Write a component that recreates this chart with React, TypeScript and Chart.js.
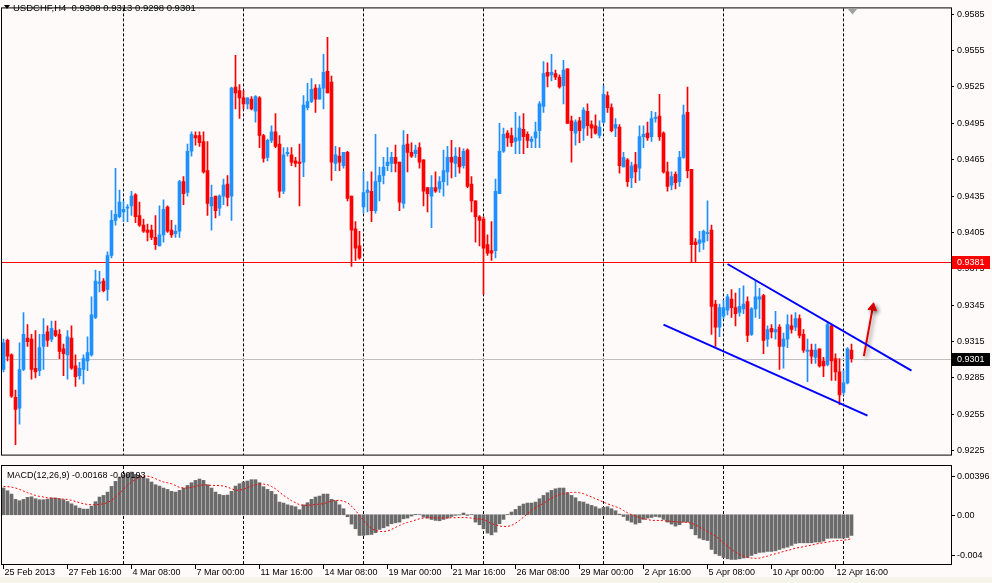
import React, { useEffect, useRef } from 'react';
import { Chart, registerables } from 'chart.js';

Chart.register(...registerables);

const FONT = 'Liberation Sans, Arial, sans-serif';
const SYMBOL = 'USDCHF,H4';
const BULL = '#1e90ff';
const BEAR = '#ff0000';

// H4 candles from 25 Feb 2013 00:00, one per 4 hours, Mon-Fri
const opens = [
  0.9292, 0.9316, 0.9304, 0.9269, 0.9260, 0.9292, 0.9318, 0.9317, 0.9293, 0.9291,
  0.9311, 0.9323, 0.9317, 0.9324, 0.9321, 0.9309, 0.9304, 0.9318, 0.9295, 0.9287,
  0.9292, 0.9299, 0.9304, 0.9335, 0.9363, 0.9365, 0.9358, 0.9386, 0.9415, 0.9418,
  0.9422, 0.9425, 0.9427, 0.9436, 0.9419, 0.9411, 0.9407, 0.9407, 0.9401, 0.9394,
  0.9403, 0.9426, 0.9407, 0.9404, 0.9406, 0.9447, 0.9438, 0.9472, 0.9485, 0.9485,
  0.9480, 0.9456, 0.9427, 0.9435, 0.9425, 0.9435, 0.9445, 0.9435, 0.9525, 0.9522,
  0.9516, 0.9511, 0.9515, 0.9505, 0.9516, 0.9485, 0.9467, 0.9481, 0.9488, 0.9478,
  0.9439, 0.9470, 0.9469, 0.9464, 0.9463, 0.9463, 0.9508, 0.9513, 0.9524, 0.9515,
  0.9524, 0.9538, 0.9529, 0.9462, 0.9468, 0.9460, 0.9471, 0.9435, 0.9408, 0.9394,
  0.9426, 0.9438, 0.9439, 0.9423, 0.9447, 0.9452, 0.9460, 0.9462, 0.9467, 0.9463,
  0.9429, 0.9478, 0.9471, 0.9470, 0.9475, 0.9465, 0.9442, 0.9435, 0.9442, 0.9441,
  0.9447, 0.9455, 0.9467, 0.9462, 0.9467, 0.9460, 0.9473, 0.9445, 0.9431, 0.9418,
  0.9416, 0.9395, 0.9390, 0.9390, 0.9437, 0.9472, 0.9487, 0.9485, 0.9480, 0.9481,
  0.9490, 0.9486, 0.9480, 0.9483, 0.9489, 0.9509, 0.9537, 0.9535, 0.9536, 0.9533,
  0.9526, 0.9540, 0.9497, 0.9487, 0.9497, 0.9491, 0.9505, 0.9494, 0.9493, 0.9485,
  0.9496, 0.9518, 0.9508, 0.9491, 0.9492, 0.9459, 0.9465, 0.9450, 0.9461, 0.9458,
  0.9484, 0.9487, 0.9484, 0.9499, 0.9501, 0.9487, 0.9455, 0.9444, 0.9453, 0.9447,
  0.9467, 0.9504, 0.9457, 0.9397, 0.9396, 0.9397, 0.9404, 0.9407, 0.9346, 0.9327,
  0.9336, 0.9341, 0.9350, 0.9343, 0.9339, 0.9342, 0.9348, 0.9321, 0.9342, 0.9350,
  0.9353, 0.9317, 0.9326, 0.9323, 0.9327, 0.9311, 0.9317, 0.9328, 0.9327, 0.9334,
  0.9321, 0.9307, 0.9308, 0.9302, 0.9309, 0.9299, 0.9296, 0.9328, 0.9301, 0.9290,
  0.9273, 0.9281, 0.9308,
];
const highs = [
  0.9317, 0.9317, 0.9305, 0.9275, 0.9314, 0.9339, 0.9329, 0.9321, 0.9324, 0.9321,
  0.9334, 0.9328, 0.9332, 0.9332, 0.9325, 0.9313, 0.9324, 0.9328, 0.9304, 0.9298,
  0.9304, 0.9319, 0.9352, 0.9374, 0.9373, 0.9367, 0.9389, 0.9423, 0.9458, 0.9440,
  0.9431, 0.9428, 0.9439, 0.9437, 0.9430, 0.9416, 0.9412, 0.9411, 0.9419, 0.9427,
  0.9432, 0.9427, 0.9415, 0.9411, 0.9448, 0.9451, 0.9478, 0.9488, 0.9488, 0.9488,
  0.9488, 0.9480, 0.9444, 0.9435, 0.9436, 0.9449, 0.9452, 0.9525, 0.9551, 0.9527,
  0.9522, 0.9516, 0.9517, 0.9518, 0.9517, 0.9486, 0.9482, 0.9493, 0.9503, 0.9485,
  0.9475, 0.9475, 0.9475, 0.9467, 0.9478, 0.9518, 0.9528, 0.9532, 0.9527, 0.9527,
  0.9552, 0.9566, 0.9534, 0.9476, 0.9475, 0.9471, 0.9472, 0.9435, 0.9414, 0.9406,
  0.9455, 0.9447, 0.9455, 0.9486, 0.9459, 0.9467, 0.9475, 0.9471, 0.9477, 0.9463,
  0.9489, 0.9486, 0.9479, 0.9477, 0.9479, 0.9465, 0.9442, 0.9452, 0.9455, 0.9451,
  0.9473, 0.9476, 0.9481, 0.9475, 0.9475, 0.9474, 0.9474, 0.9451, 0.9431, 0.9419,
  0.9418, 0.9403, 0.9414, 0.9449, 0.9495, 0.9491, 0.9489, 0.9491, 0.9504, 0.9501,
  0.9503, 0.9488, 0.9484, 0.9496, 0.9513, 0.9546, 0.9545, 0.9552, 0.9539, 0.9535,
  0.9547, 0.9540, 0.9501, 0.9498, 0.9500, 0.9508, 0.9511, 0.9497, 0.9502, 0.9497,
  0.9526, 0.9521, 0.9511, 0.9499, 0.9494, 0.9471, 0.9466, 0.9463, 0.9471, 0.9493,
  0.9493, 0.9496, 0.9505, 0.9504, 0.9519, 0.9488, 0.9463, 0.9455, 0.9455, 0.9472,
  0.9510, 0.9525, 0.9457, 0.9400, 0.9406, 0.9407, 0.9431, 0.9411, 0.9349, 0.9346,
  0.9349, 0.9354, 0.9358, 0.9355, 0.9359, 0.9361, 0.9352, 0.9343, 0.9365, 0.9359,
  0.9354, 0.9328, 0.9329, 0.9340, 0.9329, 0.9322, 0.9337, 0.9337, 0.9339, 0.9337,
  0.9325, 0.9317, 0.9313, 0.9313, 0.9309, 0.9302, 0.9331, 0.9329, 0.9305, 0.9301,
  0.9291, 0.9310, 0.9313,
];
const lows = [
  0.9290, 0.9299, 0.9269, 0.9230, 0.9247, 0.9291, 0.9311, 0.9284, 0.9285, 0.9287,
  0.9292, 0.9311, 0.9315, 0.9319, 0.9301, 0.9287, 0.9284, 0.9292, 0.9278, 0.9284,
  0.9280, 0.9291, 0.9303, 0.9334, 0.9356, 0.9356, 0.9349, 0.9384, 0.9411, 0.9417,
  0.9414, 0.9414, 0.9419, 0.9413, 0.9410, 0.9405, 0.9398, 0.9399, 0.9391, 0.9394,
  0.9397, 0.9405, 0.9401, 0.9401, 0.9401, 0.9428, 0.9435, 0.9468, 0.9477, 0.9476,
  0.9454, 0.9419, 0.9407, 0.9417, 0.9419, 0.9428, 0.9427, 0.9415, 0.9507, 0.9499,
  0.9507, 0.9507, 0.9506, 0.9496, 0.9475, 0.9463, 0.9464, 0.9479, 0.9475, 0.9434,
  0.9437, 0.9468, 0.9460, 0.9459, 0.9427, 0.9451, 0.9506, 0.9512, 0.9504, 0.9515,
  0.9507, 0.9520, 0.9448, 0.9456, 0.9456, 0.9458, 0.9431, 0.9377, 0.9382, 0.9383,
  0.9421, 0.9422, 0.9414, 0.9421, 0.9431, 0.9445, 0.9456, 0.9455, 0.9455, 0.9423,
  0.9425, 0.9455, 0.9467, 0.9467, 0.9458, 0.9427, 0.9422, 0.9409, 0.9438, 0.9438,
  0.9435, 0.9444, 0.9450, 0.9451, 0.9454, 0.9458, 0.9442, 0.9422, 0.9397, 0.9394,
  0.9354, 0.9386, 0.9382, 0.9384, 0.9437, 0.9471, 0.9476, 0.9476, 0.9470, 0.9470,
  0.9470, 0.9475, 0.9475, 0.9475, 0.9475, 0.9504, 0.9525, 0.9530, 0.9531, 0.9524,
  0.9511, 0.9495, 0.9463, 0.9477, 0.9479, 0.9481, 0.9485, 0.9483, 0.9486, 0.9483,
  0.9495, 0.9504, 0.9488, 0.9484, 0.9454, 0.9459, 0.9443, 0.9442, 0.9446, 0.9448,
  0.9475, 0.9481, 0.9480, 0.9496, 0.9481, 0.9454, 0.9439, 0.9440, 0.9441, 0.9443,
  0.9466, 0.9450, 0.9381, 0.9381, 0.9389, 0.9391, 0.9398, 0.9321, 0.9311, 0.9319,
  0.9334, 0.9337, 0.9335, 0.9328, 0.9336, 0.9338, 0.9315, 0.9320, 0.9335, 0.9334,
  0.9305, 0.9311, 0.9318, 0.9317, 0.9292, 0.9293, 0.9310, 0.9322, 0.9324, 0.9318,
  0.9306, 0.9282, 0.9297, 0.9297, 0.9294, 0.9286, 0.9295, 0.9283, 0.9283, 0.9263,
  0.9271, 0.9280, 0.9298,
];
const closes = [
  0.9314, 0.9303, 0.9270, 0.9259, 0.9292, 0.9321, 0.9315, 0.9292, 0.9290, 0.9310,
  0.9321, 0.9316, 0.9326, 0.9320, 0.9307, 0.9305, 0.9319, 0.9293, 0.9286, 0.9293,
  0.9301, 0.9306, 0.9337, 0.9365, 0.9364, 0.9357, 0.9386, 0.9415, 0.9420, 0.9430,
  0.9424, 0.9426, 0.9435, 0.9418, 0.9411, 0.9406, 0.9405, 0.9401, 0.9395, 0.9403,
  0.9424, 0.9406, 0.9403, 0.9406, 0.9447, 0.9437, 0.9472, 0.9486, 0.9483, 0.9479,
  0.9455, 0.9429, 0.9434, 0.9423, 0.9435, 0.9444, 0.9434, 0.9524, 0.9520, 0.9516,
  0.9511, 0.9516, 0.9507, 0.9517, 0.9485, 0.9466, 0.9481, 0.9488, 0.9476, 0.9439,
  0.9469, 0.9471, 0.9463, 0.9462, 0.9462, 0.9510, 0.9513, 0.9523, 0.9515, 0.9524,
  0.9537, 0.9520, 0.9463, 0.9469, 0.9463, 0.9471, 0.9433, 0.9407, 0.9392, 0.9384,
  0.9438, 0.9440, 0.9423, 0.9447, 0.9452, 0.9459, 0.9463, 0.9467, 0.9462, 0.9430,
  0.9477, 0.9471, 0.9468, 0.9473, 0.9463, 0.9439, 0.9437, 0.9442, 0.9439, 0.9447,
  0.9456, 0.9467, 0.9463, 0.9468, 0.9459, 0.9472, 0.9443, 0.9431, 0.9418, 0.9415,
  0.9392, 0.9388, 0.9388, 0.9439, 0.9472, 0.9486, 0.9483, 0.9479, 0.9483, 0.9491,
  0.9484, 0.9481, 0.9482, 0.9488, 0.9511, 0.9536, 0.9534, 0.9537, 0.9533, 0.9525,
  0.9539, 0.9495, 0.9489, 0.9496, 0.9489, 0.9506, 0.9493, 0.9491, 0.9487, 0.9492,
  0.9519, 0.9508, 0.9489, 0.9494, 0.9460, 0.9467, 0.9447, 0.9460, 0.9455, 0.9484,
  0.9486, 0.9483, 0.9499, 0.9500, 0.9484, 0.9455, 0.9443, 0.9451, 0.9446, 0.9467,
  0.9502, 0.9456, 0.9395, 0.9395, 0.9399, 0.9406, 0.9405, 0.9344, 0.9327, 0.9343,
  0.9343, 0.9352, 0.9343, 0.9338, 0.9344, 0.9346, 0.9320, 0.9342, 0.9352, 0.9352,
  0.9316, 0.9325, 0.9323, 0.9325, 0.9311, 0.9317, 0.9329, 0.9325, 0.9334, 0.9320,
  0.9308, 0.9308, 0.9303, 0.9308, 0.9295, 0.9295, 0.9329, 0.9299, 0.9290, 0.9271,
  0.9281, 0.9309, 0.9301,
];

// MACD(12,26,9): main line (histogram) and signal line
const macdMain = [
  0.00217, 0.00195, 0.00168, 0.00125, 0.00114, 0.00125, 0.00141, 0.00146, 0.00130, 0.00122,
  0.00122, 0.00127, 0.00136, 0.00136, 0.00130, 0.00122, 0.00108, 0.00089, 0.00073, 0.00054,
  0.00046, 0.00046, 0.00070, 0.00106, 0.00144, 0.00157, 0.00184, 0.00230, 0.00271, 0.00306,
  0.00325, 0.00333, 0.00347, 0.00328, 0.00320, 0.00306, 0.00293, 0.00266, 0.00244, 0.00233,
  0.00217, 0.00206, 0.00190, 0.00184, 0.00198, 0.00217, 0.00238, 0.00260, 0.00279, 0.00290,
  0.00279, 0.00244, 0.00217, 0.00184, 0.00165, 0.00157, 0.00160, 0.00190, 0.00233, 0.00252,
  0.00266, 0.00274, 0.00285, 0.00285, 0.00260, 0.00228, 0.00206, 0.00190, 0.00165, 0.00103,
  0.00095, 0.00081, 0.00073, 0.00065, 0.00041, 0.00081, 0.00098, 0.00125, 0.00144, 0.00152,
  0.00168, 0.00168, 0.00125, 0.00114, 0.00081, 0.00049, -0.00016, -0.00076, -0.00114, -0.00168,
  -0.00168, -0.00163, -0.00160, -0.00146, -0.00119, -0.00106, -0.00092, -0.00073, -0.00065, -0.00060,
  -0.00033, -0.00027, -0.00011, 0.00003, 0.00001, -0.00019, -0.00027, -0.00038, -0.00046, -0.00049,
  -0.00038, -0.00027, -0.00014, -0.00005, -0.00002, 0.00014, -0.00005, 0.00001, -0.00060, -0.00081,
  -0.00114, -0.00149, -0.00163, -0.00141, -0.00073, -0.00038, 0.00002, 0.00022, 0.00043, 0.00070,
  0.00087, 0.00095, 0.00095, 0.00103, 0.00130, 0.00157, 0.00179, 0.00198, 0.00211, 0.00217,
  0.00217, 0.00179, 0.00157, 0.00138, 0.00108, 0.00103, 0.00087, 0.00076, 0.00065, 0.00049,
  0.00060, 0.00065, 0.00049, 0.00033, 0.00005, -0.00014, -0.00046, -0.00060, -0.00076, -0.00065,
  -0.00038, -0.00027, -0.00022, -0.00014, -0.00019, -0.00038, -0.00060, -0.00076, -0.00092, -0.00081,
  -0.00060, -0.00060, -0.00114, -0.00163, -0.00190, -0.00203, -0.00209, -0.00282, -0.00317, -0.00331,
  -0.00347, -0.00358, -0.00363, -0.00363, -0.00358, -0.00352, -0.00347, -0.00331, -0.00317, -0.00306,
  -0.00304, -0.00298, -0.00298, -0.00293, -0.00282, -0.00271, -0.00263, -0.00249, -0.00233, -0.00228,
  -0.00228, -0.00228, -0.00228, -0.00222, -0.00222, -0.00214, -0.00192, -0.00190, -0.00190, -0.00190,
  -0.00190, -0.00185, -0.00168,
];
const macdSignal = [
  0.00230, 0.00228, 0.00225, 0.00217, 0.00206, 0.00192, 0.00179, 0.00168, 0.00157, 0.00149,
  0.00144, 0.00138, 0.00136, 0.00133, 0.00130, 0.00127, 0.00125, 0.00117, 0.00108, 0.00098,
  0.00089, 0.00084, 0.00081, 0.00081, 0.00084, 0.00089, 0.00098, 0.00117, 0.00144, 0.00173,
  0.00206, 0.00238, 0.00266, 0.00287, 0.00306, 0.00314, 0.00314, 0.00306, 0.00293, 0.00279,
  0.00266, 0.00260, 0.00252, 0.00238, 0.00222, 0.00217, 0.00217, 0.00222, 0.00230, 0.00238,
  0.00244, 0.00241, 0.00238, 0.00238, 0.00238, 0.00233, 0.00225, 0.00211, 0.00198, 0.00201,
  0.00206, 0.00222, 0.00233, 0.00244, 0.00249, 0.00249, 0.00244, 0.00230, 0.00211, 0.00184,
  0.00157, 0.00136, 0.00114, 0.00098, 0.00081, 0.00076, 0.00076, 0.00079, 0.00084, 0.00087,
  0.00089, 0.00100, 0.00111, 0.00117, 0.00117, 0.00111, 0.00098, 0.00070, 0.00035, -0.00005,
  -0.00046, -0.00081, -0.00114, -0.00127, -0.00136, -0.00136, -0.00133, -0.00119, -0.00103, -0.00087,
  -0.00073, -0.00062, -0.00054, -0.00043, -0.00033, -0.00027, -0.00024, -0.00024, -0.00024, -0.00027,
  -0.00027, -0.00027, -0.00024, -0.00024, -0.00022, -0.00022, -0.00024, -0.00027, -0.00033, -0.00035,
  -0.00038, -0.00054, -0.00073, -0.00081, -0.00092, -0.00095, -0.00095, -0.00087, -0.00068, -0.00046,
  -0.00019, 0.00008, 0.00035, 0.00057, 0.00076, 0.00092, 0.00114, 0.00136, 0.00152, 0.00163,
  0.00171, 0.00179, 0.00182, 0.00182, 0.00179, 0.00171, 0.00157, 0.00146, 0.00130, 0.00117,
  0.00103, 0.00089, 0.00076, 0.00065, 0.00054, 0.00035, 0.00016, 0.00000, -0.00011, -0.00022,
  -0.00033, -0.00038, -0.00046, -0.00046, -0.00046, -0.00049, -0.00051, -0.00054, -0.00057, -0.00060,
  -0.00060, -0.00062, -0.00068, -0.00081, -0.00100, -0.00119, -0.00136, -0.00154, -0.00173, -0.00200,
  -0.00228, -0.00255, -0.00282, -0.00304, -0.00322, -0.00336, -0.00347, -0.00352, -0.00355, -0.00352,
  -0.00344, -0.00336, -0.00325, -0.00317, -0.00309, -0.00298, -0.00290, -0.00282, -0.00271, -0.00266,
  -0.00260, -0.00252, -0.00247, -0.00238, -0.00233, -0.00228, -0.00222, -0.00217, -0.00211, -0.00209,
  -0.00206, -0.00203, -0.00193,
];

// time axis: one label every 16 bars, dashed separators on Monday 00:00 bars
const timeLabels = [
  '25 Feb 2013', '27 Feb 16:00', '4 Mar 08:00', '7 Mar 00:00', '11 Mar 16:00',
  '14 Mar 08:00', '19 Mar 00:00', '21 Mar 16:00', '26 Mar 08:00', '29 Mar 00:00',
  '2 Apr 16:00', '5 Apr 08:00', '10 Apr 00:00', '12 Apr 16:00',
];
const LABEL_STEP = 16;
const weekStarts = [30, 60, 90, 120, 150, 180, 210];

const priceTicks = [
  0.9225, 0.9255, 0.9285, 0.9315, 0.9345, 0.9375, 0.9405,
  0.9435, 0.9465, 0.9495, 0.9525, 0.9555, 0.9585,
];
const macdTickLabels = ['0.00396', '0.00', '-0.004'];

// drawn objects
const resistanceLevel = 0.9381;
const channelUpper = [{ x: 181, y: 0.9379 }, { x: 227, y: 0.9291 }];
const channelLower = [{ x: 165, y: 0.9329 }, { x: 216, y: 0.9254 }];
const arrowUp = [{ x: 215.1, y: 0.9303 }, { x: 217.3, y: 0.9343 }];

const X_MIN = -0.375;
const X_MAX = 236.875;
const P_MIN = 0.92218;
const P_MAX = 0.95898;
const M_MIN = -0.004;
const M_MAX = 0.00396;
const ARROW_INDEX = 2;

const idx = opens.map((_, i) => i);
const last = opens.length - 1;
const candleColors = idx.map((i) => (closes[i] > opens[i] ? BULL : BEAR));

function weeklyGrid(): any {
  return {
    type: 'linear',
    min: X_MIN,
    max: X_MAX,
    offset: false,
    afterBuildTicks: (s: any) => {
      s.ticks = weekStarts.map((value) => ({ value }));
    },
    afterFit: (s: any) => {
      s.height = 0;
    },
    ticks: { display: false },
    grid: { color: '#000', lineWidth: 1, drawTicks: false, offset: false },
    border: { display: false, dash: [3, 2] },
  };
}

const mainOverlay = {
  id: 'mainOverlay',
  beforeDatasetsDraw(chart: any) {
    const { ctx, chartArea: a, scales } = chart;
    const hline = (v: number, color: string) => {
      const py = Math.round(scales.y.getPixelForValue(v)) + 0.5;
      ctx.save();
      ctx.strokeStyle = color;
      ctx.lineWidth = 1;
      ctx.beginPath();
      ctx.moveTo(a.left, py);
      ctx.lineTo(a.right, py);
      ctx.stroke();
      ctx.restore();
    };
    hline(closes[last], '#c0c0c0');
    hline(resistanceLevel, '#ff0000');
  },
  beforeDatasetDraw(chart: any, args: any) {
    if (args.index !== ARROW_INDEX) return;
    const ctx = chart.ctx;
    ctx.save();
    ctx.shadowColor = 'rgba(0,0,0,0.45)';
    ctx.shadowBlur = 4;
    ctx.shadowOffsetX = 2;
    ctx.shadowOffsetY = 2;
  },
  afterDatasetDraw(chart: any, args: any) {
    if (args.index === ARROW_INDEX) chart.ctx.restore();
  },
  afterDraw(chart: any) {
    const { ctx, chartArea: a, scales } = chart;
    ctx.save();
    ctx.strokeStyle = '#000';
    ctx.lineWidth = 1;
    ctx.strokeRect(a.left - 0.5, a.top - 0.5, a.right - a.left + 1, a.bottom - a.top + 1);

    // header
    ctx.fillStyle = '#000';
    ctx.beginPath();
    ctx.moveTo(4, 5);
    ctx.lineTo(10, 5);
    ctx.lineTo(7, 9);
    ctx.closePath();
    ctx.fill();
    ctx.font = `9.5px ${FONT}`;
    ctx.textBaseline = 'middle';
    ctx.textAlign = 'left';
    const ohlc = [opens[last], highs[last], lows[last], closes[last]].map((v) => v.toFixed(4)).join(' ');
    ctx.fillText(`${SYMBOL}  ${ohlc}`, 13, 8.5);

    // price markers on the axis
    ctx.font = `9px ${FONT}`;
    const marker = (v: number, bg: string) => {
      const py = Math.round(scales.y.getPixelForValue(v));
      ctx.fillStyle = bg;
      ctx.fillRect(a.right + 1, py - 6, 38, 13);
      ctx.fillStyle = '#fff';
      ctx.fillText(v.toFixed(4), a.right + 6, py + 0.5);
    };
    marker(resistanceLevel, '#ff0000');
    marker(closes[last], '#000');

    // chart shift marker
    const sx = Math.round(scales.x.getPixelForValue(last)) + 0.5;
    ctx.fillStyle = '#a0a0a0';
    ctx.beginPath();
    ctx.moveTo(sx - 5, a.top);
    ctx.lineTo(sx + 5, a.top);
    ctx.lineTo(sx, a.top + 6);
    ctx.closePath();
    ctx.fill();
    ctx.restore();
  },
};

const macdOverlay = {
  id: 'macdOverlay',
  afterDraw(chart: any) {
    const { ctx, chartArea: a, scales } = chart;
    ctx.save();
    ctx.strokeStyle = '#000';
    ctx.lineWidth = 1;
    ctx.strokeRect(a.left - 0.5, a.top - 0.5, a.right - a.left + 1, a.bottom - a.top + 1);
    ctx.fillStyle = '#000';
    ctx.font = `9px ${FONT}`;
    ctx.textBaseline = 'middle';
    ctx.textAlign = 'left';
    const head = `MACD(12,26,9) ${macdMain[last].toFixed(5)} ${macdSignal[last].toFixed(5)}`;
    ctx.fillText(head, 7, a.top + 10);
    const rows = [a.top + 10, Math.round(scales.y.getPixelForValue(0)), a.bottom - 9];
    rows.forEach((py, k) => {
      ctx.fillRect(a.right + 1, py, 3, 1);
      ctx.fillText(macdTickLabels[k], a.right + 6, py + 0.5);
    });
    ctx.restore();
  },
};

function mainConfig(): any {
  return {
    type: 'bar',
    data: {
      datasets: [
        {
          type: 'line', label: 'channel top', data: channelUpper, order: 0,
          borderColor: '#0000ff', borderWidth: 2, pointRadius: 0, tension: 0,
        },
        {
          type: 'line', label: 'channel bottom', data: channelLower, order: 0,
          borderColor: '#0000ff', borderWidth: 2, pointRadius: 0, tension: 0,
        },
        {
          type: 'line', label: 'arrow', data: arrowUp, order: 0,
          borderColor: '#e00000', borderWidth: 2, tension: 0,
          pointRadius: [0, 5], pointStyle: 'triangle', pointRotation: 10,
          pointBackgroundColor: '#e00000', pointBorderColor: '#e00000', pointBorderWidth: 1,
        },
        {
          label: 'body', order: 1,
          data: idx.map((i) => ({ x: i, y: [Math.min(opens[i], closes[i]), Math.max(opens[i], closes[i])] })),
          backgroundColor: candleColors, barThickness: 3, minBarLength: 1, grouped: false, borderWidth: 0,
        },
        {
          label: 'wick', order: 2,
          data: idx.map((i) => ({ x: i, y: [lows[i], highs[i]] })),
          backgroundColor: candleColors, barThickness: 1, grouped: false, borderWidth: 0,
        },
      ],
    },
    options: {
      responsive: false,
      animation: false,
      events: [],
      layout: { autoPadding: false, padding: { left: 2, top: 2, right: 0, bottom: 1 } },
      plugins: { legend: { display: false }, tooltip: { enabled: false } },
      scales: {
        x: weeklyGrid(),
        y: {
          position: 'right',
          min: P_MIN,
          max: P_MAX,
          afterBuildTicks: (s: any) => {
            s.ticks = priceTicks.map((value) => ({ value }));
          },
          afterFit: (s: any) => {
            s.width = 41;
          },
          ticks: {
            color: '#000', padding: 3, autoSkip: false,
            font: { family: FONT, size: 9 },
            callback: (v: any) => Number(v).toFixed(4),
          },
          grid: { drawOnChartArea: false, drawTicks: true, tickLength: 3, color: '#000' },
          border: { display: true, color: '#000' },
        },
      },
    },
    plugins: [mainOverlay],
  };
}

function macdConfig(): any {
  return {
    type: 'bar',
    data: {
      datasets: [
        {
          type: 'line', label: 'Signal', order: 0,
          data: idx.map((i) => ({ x: i, y: macdSignal[i] })),
          borderColor: '#ff0000', borderWidth: 1, borderDash: [2, 2], pointRadius: 0, tension: 0,
          xAxisID: 'x', yAxisID: 'y',
        },
        {
          label: 'MACD', order: 1,
          data: idx.map((i) => ({ x: i, y: macdMain[i] })),
          backgroundColor: '#6b6b6b', barThickness: 3, borderWidth: 0,
          xAxisID: 'x', yAxisID: 'y',
        },
      ],
    },
    options: {
      responsive: false,
      animation: false,
      events: [],
      layout: { autoPadding: false, padding: { left: 2, top: 3, right: 0, bottom: 0 } },
      plugins: { legend: { display: false }, tooltip: { enabled: false } },
      scales: {
        x: weeklyGrid(),
        xl: {
          type: 'linear',
          position: 'bottom',
          min: X_MIN,
          max: X_MAX,
          offset: false,
          afterBuildTicks: (s: any) => {
            s.ticks = timeLabels.map((_, k) => ({ value: k * LABEL_STEP }));
          },
          afterFit: (s: any) => {
            s.height = 19;
          },
          ticks: {
            align: 'start', labelOffset: 1, padding: 0, color: '#000',
            autoSkip: false, maxRotation: 0,
            font: { family: FONT, size: 9, lineHeight: 0.8 },
            callback: (v: any) => timeLabels[Math.round(Number(v) / LABEL_STEP)],
          },
          grid: { drawOnChartArea: false, drawTicks: true, tickLength: 5, color: '#000', offset: false },
          border: { display: false },
        },
        y: {
          position: 'right',
          min: M_MIN,
          max: M_MAX,
          afterFit: (s: any) => {
            s.width = 41;
          },
          ticks: { display: false },
          grid: { display: false },
          border: { display: true, color: '#000' },
        },
      },
    },
    plugins: [macdOverlay],
  };
}

export default function App() {
  const mainRef = useRef<HTMLCanvasElement>(null);
  const macdRef = useRef<HTMLCanvasElement>(null);

  useEffect(() => {
    document.body.style.margin = '0';
    const charts: Chart[] = [];
    if (mainRef.current) charts.push(new Chart(mainRef.current, mainConfig()));
    if (macdRef.current) charts.push(new Chart(macdRef.current, macdConfig()));
    return () => {
      charts.forEach((c) => c.destroy());
    };
  }, []);

  return (
    <div style={{ position: 'relative', width: 992, height: 583, background: '#fffafa', overflow: 'hidden' }}>
      <canvas ref={mainRef} width={992} height={463} style={{ position: 'absolute', left: 0, top: 0 }} />
      <canvas ref={macdRef} width={992} height={120} style={{ position: 'absolute', left: 0, top: 463 }} />
      <div style={{ position: 'absolute', left: 0, top: 577, width: 992, height: 6, background: '#f4f4ea' }} />
    </div>
  );
}
